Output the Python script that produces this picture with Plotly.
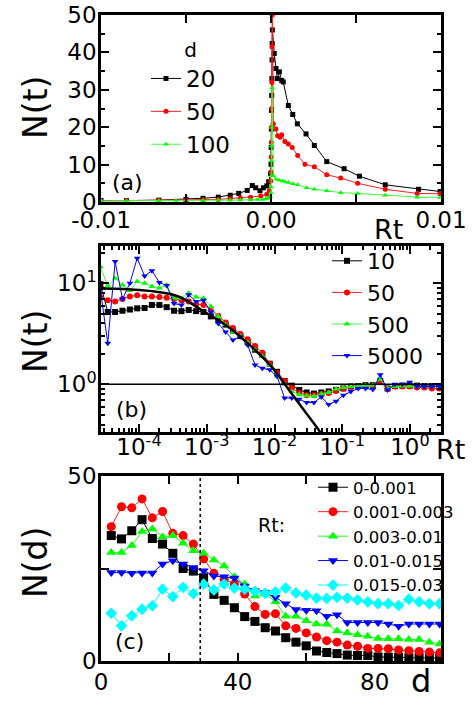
import plotly.graph_objects as go

# ---------------- panel (a) data: N(t) vs Rt (linear) ----------------
a_d_labels = ["20", "50", "100"]
a_x20 = [-0.0100, -0.0085, -0.0066, -0.0050, -0.0040, -0.0031, -0.0024, -0.0019, -0.0014, -0.0011,
         -0.0009, -0.00065, -0.00045, -0.00025, -0.00014, -0.00002, 0.00000, 0.00001, 0.00002, 0.00003,
         0.00004, 0.00005, 0.00006, 0.00007, 0.00008, 0.00019, 0.00029, 0.00037, 0.00049, 0.00063,
         0.00072, 0.00102, 0.00128, 0.00155, 0.00206, 0.00255, 0.00328, 0.00430, 0.00520, 0.00672,
         0.00868, 0.00995]
a_y20 = [0.4, 0.35, 0.5, 0.7, 1.0, 1.3, 1.8, 2.3, 3.1, 4.4,
         3.8, 3.0, 3.8, 4.3, 5.4, 7.6, 10.1, 14.6, 19.5, 24.5,
         28.5, 33.0, 38.0, 42.4, 46.0, 39.7, 35.7, 33.0, 34.8, 32.5,
         32.1, 25.8, 23.4, 20.9, 18.2, 15.1, 10.8, 8.9, 6.9, 4.6,
         3.4, 2.8]
a_x50 = [-0.0100, -0.0085, -0.0066, -0.0050, -0.0040, -0.0031, -0.0024, -0.0018, -0.0012, -0.0006,
         -0.00025, -0.0001, -0.00002, 0.00000, 0.00001, 0.00002, 0.00003, 0.00004, 0.00005, 0.00006,
         0.00007, 0.00008, 0.000135, 0.00029, 0.00039, 0.00053, 0.00063, 0.00082, 0.00102, 0.00125,
         0.00157, 0.00200, 0.00255, 0.00328, 0.00410, 0.00510, 0.00672, 0.00860, 0.00995]
a_y50 = [0.3, 0.35, 0.4, 0.5, 0.6, 0.7, 0.9, 1.1, 1.3, 1.6,
         2.1, 3.0, 5.6, 8.0, 12.0, 16.0, 20.0, 25.0, 32.0, 41.5,
         50.0, 58.0, 20.9, 19.5, 17.7, 17.3, 18.0, 16.2, 15.5, 14.6,
         12.4, 10.1, 9.4, 7.3, 6.4, 5.0, 3.4, 2.3, 2.2]
a_x100 = [-0.0100, -0.0085, -0.0066, -0.0056, -0.0040, -0.0031, -0.0024, -0.0018, -0.0012, -0.0008,
          -0.0005, -0.0003, -0.00015, -0.00005, 0.00000, 0.00001, 0.00002, 0.00003, 0.00004, 0.00005,
          0.00006, 0.000135, 0.00029, 0.00049, 0.00069, 0.00083, 0.00102, 0.00128, 0.00157, 0.00210,
          0.00255, 0.00328, 0.00410, 0.00510, 0.00672, 0.00860, 0.00995]
a_y100 = [0.3, 0.3, 0.35, 0.4, 0.4, 0.45, 0.5, 0.55, 0.6, 0.65,
          0.7, 0.8, 1.0, 1.5, 2.5, 4.0, 7.0, 11.0, 15.0, 20.0,
          30.5, 7.0, 6.1, 5.8, 5.6, 5.4, 5.2, 4.9, 4.6, 3.8,
          3.4, 3.0, 2.5, 2.3, 1.8, 1.3, 1.2]
a_xticks = [-0.01, -0.005, 0.0, 0.005, 0.01]
a_xticktext = ["-0.01", "", "0.00", "", "0.01"]

# ---------------- panel (b) data: N(t) vs Rt (log-log) ----------------
b_labels = ["10", "50", "500", "5000"]
b_x = [2.69e-5, 3.46e-5, 4.44e-5, 5.70e-5, 7.33e-5, 9.40e-5, 1.21e-4, 1.55e-4, 2.00e-4, 2.56e-4,
       3.29e-4, 4.23e-4, 5.42e-4, 6.97e-4, 8.95e-4, 1.15e-3, 1.48e-3, 1.90e-3, 2.44e-3, 3.13e-3,
       4.02e-3, 5.16e-3, 6.62e-3, 8.51e-3, 1.09e-2, 1.41e-2, 1.80e-2, 2.32e-2, 2.98e-2, 3.82e-2,
       4.91e-2, 6.31e-2, 8.09e-2, 0.104, 0.134, 0.172, 0.220, 0.283, 0.364, 0.467,
       0.600, 0.771, 0.991, 1.27, 1.63, 2.10, 2.69]
b_y10 = [9.8, 5.2, 5.2, 5.35, 5.5, 5.65, 5.7, 6.1, 6.1, 5.8,
         5.35, 5.3, 5.45, 5.3, 5.2, 4.7, 4.3, 3.9, 3.4, 3.0,
         2.6, 2.2, 1.95, 1.6, 1.33, 1.08, 0.97, 0.88, 0.83, 0.81,
         0.83, 0.85, 0.88, 0.91, 0.95, 0.96, 0.98, 0.98, 1.08, 0.91,
         0.96, 0.97, 0.97, 0.97, 0.96, 0.96, 0.95]
b_y50 = [7.3, 6.8, 6.6, 7.0, 7.4, 7.6, 7.4, 7.4, 7.3, 7.2,
         7.0, 6.8, 6.6, 6.2, 6.1, 5.45, 4.75, 4.1, 3.6, 3.15,
         2.8, 2.4, 2.05, 1.6, 1.3, 1.08, 0.92, 0.82, 0.78, 0.78,
         0.8, 0.82, 0.86, 0.91, 0.95, 0.95, 0.96, 0.97, 1.05, 0.9,
         0.95, 0.95, 0.95, 0.93, 0.93, 0.91, 0.91]
b_y500 = [14.6, 9.4, 11.2, 9.6, 8.5, 10.4, 10.0, 9.3, 9.0, 9.6,
          7.1, 7.1, 8.0, 7.3, 7.1, 5.9, 4.7, 3.9, 3.3, 3.0,
          2.6, 2.2, 1.9, 1.55, 1.2, 1.0, 0.85, 0.79, 0.77, 0.76,
          0.8, 0.83, 0.9, 0.93, 0.95, 0.96, 0.98, 0.98, 1.12, 0.91,
          0.95, 0.96, 0.96, 0.96, 0.96, 0.96, 0.96]
b_y5000 = [8.6, 2.55, 16.4, 7.0, 10.0, 17.7, 11.8, 13.3, 10.2, 9.5,
           6.3, 6.1, 7.7, 6.6, 6.8, 5.2, 4.0, 3.3, 2.75, 2.96,
           2.45, 1.55, 1.44, 1.39, 1.2, 0.73, 0.73, 0.71, 0.66, 0.66,
           0.75, 0.63, 0.68, 0.78, 0.85, 0.91, 0.91, 0.89, 1.24, 0.88,
           1.0, 1.0, 1.05, 0.95, 0.95, 0.95, 0.95]
b_fit_x = [2.75e-5, 6.0e-5, 1.0e-4, 1.7e-4, 3.8e-4, 9.3e-4, 2.09e-3, 4.57e-3, 9.1e-3, 1.35e-2,
           2.24e-2, 4.47e-2, 5.2e-2]
b_fit_y = [8.9, 8.8, 8.6, 8.3, 7.4, 5.2, 3.7, 2.36, 1.49, 1.05,
           0.66, 0.355, 0.30]
b_ref_level = 1.0
b_xticks = [1e-4, 1e-3, 1e-2, 1e-1, 1e0]
b_xticktext = ["10<sup>-4</sup>", "10<sup>-3</sup>", "10<sup>-2</sup>", "10<sup>-1</sup>", "10<sup>0</sup>"]
b_yticks = [1, 10]
b_yticktext = ["10<sup>0</sup>", "10<sup>1</sup>"]
b_xminor = [m * 10.0 ** e for e in range(-5, 1) for m in range(2, 10)]
b_yminor = [m * 10.0 ** e for e in range(-1, 2) for m in range(2, 10)]

# ---------------- panel (c) data: N(d) vs d ----------------
c_labels = ["0-0.001", "0.001-0.003", "0.003-0.01", "0.01-0.015", "0.015-0.03"]
c_d = [3, 6, 9, 12, 15, 18, 21, 24, 27, 30, 33, 36, 39, 42, 45, 48, 51, 54, 57, 60,
       63, 66, 69, 72, 75, 78, 81, 84, 87, 90, 93, 96, 99]
c_y1 = [33.9, 33.0, 35.2, 38.2, 33.1, 31.6, 29.1, 25.0, 24.3, 22.5, 18.0, 16.4, 14.4, 12.0, 10.7, 9.0, 8.1,
        6.3, 5.1, 4.1, 2.7, 2.3, 2.0, 1.6, 1.5, 1.5, 1.1, 1.0, 1.0, 0.9, 0.9, 0.8, 0.8]
c_y2 = [36.3, 41.7, 41.4, 43.8, 38.7, 40.4, 34.5, 33.9, 31.6, 27.6, 23.7, 22.1, 20.8, 18.1, 14.7, 12.6, 12.8,
        9.5, 8.8, 7.6, 6.5, 5.5, 5.1, 4.3, 4.0, 3.4, 3.4, 3.3, 3.0, 2.8, 2.6, 2.4, 2.2]
c_y3 = [29.3, 29.3, 31.2, 35.0, 35.7, 33.6, 33.9, 31.8, 29.8, 29.1, 27.3, 25.7, 22.8, 20.8, 17.6, 18.1, 16.0,
        12.1, 12.1, 10.9, 10.0, 9.9, 8.1, 7.6, 7.1, 6.7, 6.1, 6.0, 6.0, 5.8, 5.8, 5.1, 4.6]
c_y4 = [23.9, 23.9, 23.7, 23.8, 23.8, 26.2, 27.1, 26.2, 25.3, 24.4, 23.0, 22.8, 22.4, 20.3, 19.0, 18.5, 17.2,
        15.5, 13.9, 13.7, 13.6, 12.1, 12.5, 10.4, 10.4, 10.4, 10.4, 10.0, 9.4, 10.0, 10.0, 10.0, 10.0]
c_y5 = [12.9, 9.5, 12.2, 14.0, 14.9, 19.4, 17.4, 19.9, 18.2, 20.8, 19.2, 20.8, 19.7, 19.4, 18.8, 18.3, 18.7,
        19.7, 18.4, 17.8, 17.0, 16.9, 17.2, 17.0, 16.5, 16.0, 15.5, 15.5, 15.0, 16.7, 16.0, 15.5, 15.5]
c_dline = 29
c_xticks = [0, 20, 40, 60, 80]
c_xticktext = ["0", "", "40", "", "80"]
c_yticks = [0, 25, 50]
c_yticktext = ["0", "", "50"]

# ---------------- layout helpers ----------------
W, H = 473, 702
L, R, T, B = 101, 32, 15, 41
PW, PH = W - L - R, H - T - B
FONT = "DejaVu Sans"


def px(x):
    return (x - L) / PW


def py(y):
    return (H - B - y) / PH


fig = go.Figure()

# panel (a)
a_series = [(a_x20, a_y20, "#000000", "#000000", "square"),
            (a_x50, a_y50, "#ff2020", "#ff0000", "circle"),
            (a_x100, a_y100, "#40ff40", "#00ff00", "triangle-up")]
for lab, (xs, ys, lc, mc, sym) in zip(a_d_labels, a_series):
    fig.add_trace(go.Scatter(x=xs, y=ys, name=lab, mode="lines+markers", xaxis="x", yaxis="y",
                             line=dict(color=lc, width=1),
                             marker=dict(color=mc, symbol=sym, size=5, line=dict(width=0)),
                             legend="legend"))

# panel (b)
b_series = [(b_y10, "#000000", "#000000", "square"),
            (b_y50, "#ff2020", "#ff0000", "circle"),
            (b_y500, "#40ff40", "#00ff00", "triangle-up"),
            (b_y5000, "#0000ff", "#0000ff", "triangle-down")]
for lab, (ys, lc, mc, sym) in zip(b_labels, b_series):
    fig.add_trace(go.Scatter(x=b_x, y=ys, name=lab, mode="lines+markers", xaxis="x2", yaxis="y2",
                             line=dict(color=lc, width=1),
                             marker=dict(color=mc, symbol=sym, size=6, line=dict(width=0)),
                             legend="legend2"))
fig.add_trace(go.Scatter(x=b_fit_x, y=b_fit_y, mode="lines", xaxis="x2", yaxis="y2",
                         line=dict(color="#000000", width=2.5, shape="spline"), showlegend=False))

# panel (c)
c_series = [(c_y1, "#000000", "#000000", "square"),
            (c_y2, "#ff2020", "#ff0000", "circle"),
            (c_y3, "#20ff20", "#00ff00", "triangle-up"),
            (c_y4, "#0000ff", "#0000ff", "triangle-down"),
            (c_y5, "#00ffff", "#00ffff", "diamond")]
for lab, (ys, lc, mc, sym) in zip(c_labels, c_series):
    fig.add_trace(go.Scatter(x=c_d, y=ys, name=lab, mode="lines+markers", xaxis="x3", yaxis="y3",
                             line=dict(color=lc, width=1),
                             marker=dict(color=mc, symbol=sym, size=9, line=dict(width=0)),
                             legend="legend3"))

axis_common = dict(showline=True, linecolor="black", linewidth=2.5, mirror="ticks",
                   ticks="inside", ticklen=8, tickwidth=2, tickcolor="black",
                   showgrid=False, zeroline=False, automargin=False,
                   tickfont=dict(family=FONT, size=23, color="black"))
y_common = dict(axis_common, ticklabelstandoff=-3)

dom_a = [py(202), 1.0]
dom_b = [py(432), py(246)]
dom_c = [0.0, py(476)]

fig.update_layout(
    width=W, height=H, margin=dict(l=L, r=R, t=T, b=B, autoexpand=False),
    paper_bgcolor="white", plot_bgcolor="white",
    font=dict(family=FONT, color="black"),
    xaxis=dict(domain=[0, 1], anchor="y", range=[-0.01, 0.01], tickmode="array",
               tickvals=a_xticks, ticktext=a_xticktext, ticklabelstandoff=-4, **axis_common),
    yaxis=dict(domain=dom_a, anchor="x", range=[0, 50], tickmode="linear", tick0=0, dtick=10,
               minor=dict(ticks="inside", ticklen=4, tickwidth=2, dtick=5, tickcolor="black"),
               **y_common),
    xaxis2=dict(domain=[0, 1], anchor="y2", type="log", range=[-4.561, 0.4576], tickmode="array",
                tickvals=b_xticks, ticktext=b_xticktext, ticklabelstandoff=-7,
                minor=dict(ticks="inside", ticklen=4, tickwidth=1.5, tickmode="array",
                           tickvals=b_xminor, tickcolor="black"),
                **axis_common),
    yaxis2=dict(domain=dom_b, anchor="x2", type="log", range=[-0.472, 1.369], tickmode="array",
                tickvals=b_yticks, ticktext=b_yticktext,
                minor=dict(ticks="inside", ticklen=4, tickwidth=1.5, tickmode="array",
                           tickvals=b_yminor, tickcolor="black"),
                **y_common),
    xaxis3=dict(domain=[0, 1], anchor="y3", range=[0, 99.4], tickmode="array",
                tickvals=c_xticks, ticktext=c_xticktext, ticklabelstandoff=-1, **axis_common),
    yaxis3=dict(domain=dom_c, anchor="x3", range=[0, 50], tickmode="array",
                tickvals=c_yticks, ticktext=c_yticktext, **y_common),
    legend=dict(x=px(146), y=py(31), xanchor="left", yanchor="top", bgcolor="rgba(0,0,0,0)",
                font=dict(family=FONT, size=23), title=dict(text="d", side="top center",
                                                           font=dict(family=FONT, size=20))),
    legend2=dict(x=px(327), y=py(240), xanchor="left", yanchor="top", bgcolor="rgba(0,0,0,0)",
                 font=dict(family=FONT, size=22)),
    legend3=dict(x=px(313), y=py(470), xanchor="left", yanchor="top", bgcolor="rgba(0,0,0,0)",
                 font=dict(family=FONT, size=16.5)),
    showlegend=True,
)

# reference line N=1 in (b) and dotted line in (c)
fig.add_shape(type="line", xref="x2 domain", x0=0, x1=1, yref="y2", y0=b_ref_level, y1=b_ref_level,
              line=dict(color="black", width=1.5))
fig.add_shape(type="line", xref="x3", x0=c_dline, x1=c_dline, yref="y3 domain", y0=0, y1=1,
              line=dict(color="black", width=1.5, dash="dot"))


def ann(text, x, y, size, angle=0):
    fig.add_annotation(text=text, xref="paper", yref="paper", x=px(x), y=py(y),
                       xanchor="center", yanchor="middle", showarrow=False, textangle=angle,
                       font=dict(family=FONT, size=size, color="black"))


ann("N(t)", 35, 108, 33, -90)
ann("N(t)", 35, 342, 33, -90)
ann("N(d)", 35, 563, 33, -90)
ann("Rt", 388, 229, 27)
ann("Rt", 451, 449, 27)
ann("d", 421, 681, 32)
ann("(a)", 127, 182, 22)
ann("(b)", 131, 410, 22)
ann("(c)", 129, 641, 22)
ann("Rt:", 271, 525, 19)

fig.write_html("out.html", config={"displayModeBar": False},
               post_script="document.body.style.margin='0px';")
